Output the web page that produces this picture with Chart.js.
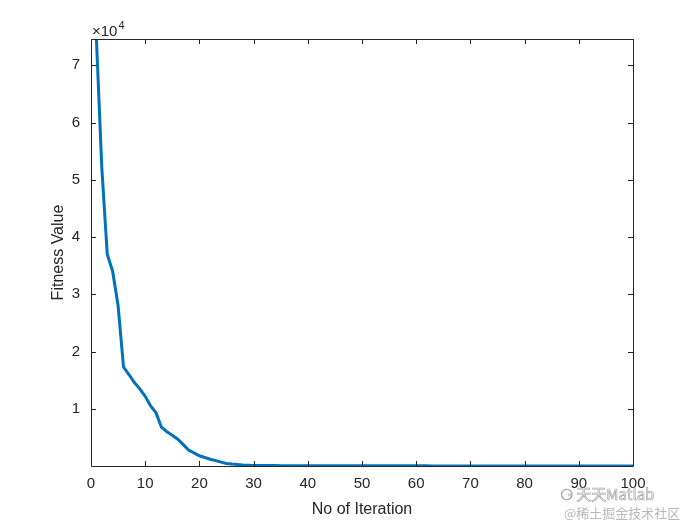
<!doctype html>
<html>
<head>
    <meta charset="UTF-8"/>
    <title>Fitness Value vs Iteration</title>
    <style type="text/css">
        body { margin: 0; padding: 0; background: #fff; }
        .chartBox { width: 700px; height: 525px; }
    </style>
</head>
<body>
    <div class="chartBox">
        <canvas id="myChart" width="700" height="525"></canvas>
    </div>

    <script src="https://cdn.jsdelivr.net/npm/chart.js"></script>

    <script>
        // Fitness value at each iteration
        const fitness = [
            74600, 52000, 37000, 34000, 28000, 17300, 16000, 14600, 13500, 12200,
            10500, 9300, 6800, 6000, 5400, 4700, 3800, 2800, 2300, 1800,
            1500, 1200, 950, 700, 450, 350, 280, 200, 150, 110,
            100, 95, 90, 85, 80, 78, 75, 72, 70, 68,
            66, 64, 62, 60, 58, 56, 55, 54, 53, 52,
            51, 50, 49, 48, 47, 46, 45, 44, 43, 42,
            41, 40, 39, 38, 37, 36, 35, 34, 33, 32,
            31, 30, 30, 29, 29, 28, 28, 27, 27, 26,
            26, 25, 25, 24, 24, 23, 23, 22, 22, 21,
            21, 20, 20, 20, 19, 19, 19, 18, 18, 18
        ];
        const iterations = fitness.map((v, i) => i + 1);
        const xTicks = [0, 10, 20, 30, 40, 50, 60, 70, 80, 90, 100];
        const yTicks = [10000, 20000, 30000, 40000, 50000, 60000, 70000];

        const FONT = "'Liberation Sans', Arial, sans-serif";
        const TEXT = '#262626';

        // MATLAB style frame with inward ticks, exponent label and watermark
        const matlabAxes = {
            id: 'matlabAxes',
            afterDraw(chart) {
                const ctx = chart.ctx;
                const a = chart.chartArea;
                const xs = chart.scales.x, ys = chart.scales.y;
                ctx.save();
                ctx.strokeStyle = TEXT;
                ctx.lineWidth = 1;
                ctx.beginPath();
                ctx.rect(Math.round(a.left) + 0.5, Math.round(a.top) + 0.5,
                    Math.round(a.right - a.left), Math.round(a.bottom - a.top));
                xTicks.forEach(t => {
                    const px = Math.round(xs.getPixelForValue(t)) + 0.5;
                    ctx.moveTo(px, a.bottom); ctx.lineTo(px, a.bottom - 5);
                    ctx.moveTo(px, a.top); ctx.lineTo(px, a.top + 5);
                });
                yTicks.forEach(t => {
                    const py = Math.round(ys.getPixelForValue(t)) + 0.5;
                    ctx.moveTo(a.left, py); ctx.lineTo(a.left + 5, py);
                    ctx.moveTo(a.right, py); ctx.lineTo(a.right - 5, py);
                });
                ctx.stroke();

                // exponent
                ctx.fillStyle = TEXT;
                ctx.textBaseline = 'alphabetic';
                ctx.textAlign = 'left';
                ctx.font = '15px ' + FONT;
                ctx.fillText('\u00d710', a.left + 1, a.top - 3);
                const w = ctx.measureText('\u00d710').width;
                ctx.font = '11px ' + FONT;
                ctx.fillText('4', a.left + 2 + w, a.top - 10);

                // watermark
                ctx.font = '15px "Noto Sans CJK SC", sans-serif';
                ctx.lineWidth = 0.7;
                ctx.strokeStyle = '#a8a8a8';
                ctx.fillStyle = '#ffffff';
                ctx.fillText('\u2686 \u5929\u5929Matlab', 560, 500);
                ctx.strokeText('\u2686 \u5929\u5929Matlab', 560, 500);
                ctx.font = '13px "Noto Sans CJK SC", sans-serif';
                ctx.fillStyle = '#b8b8b8';
                ctx.fillText('@\u7a00\u571f\u6398\u91d1\u6280\u672f\u793e\u533a', 564, 518);
                ctx.restore();
            }
        };

        const data = {
            datasets: [{
                label: 'Fitness',
                data: fitness.map((v, i) => ({ x: iterations[i], y: v })),
                borderColor: '#0072BD',
                backgroundColor: '#0072BD',
                borderWidth: 3,
                pointRadius: 0,
                tension: 0,
                fill: false
            }]
        };

        const config = {
            type: 'line',
            data: data,
            options: {
                responsive: false,
                animation: false,
                layout: { padding: { left: 0, top: 39, right: 67, bottom: 0 } },
                plugins: {
                    legend: { display: false },
                    tooltip: { enabled: false }
                },
                scales: {
                    x: {
                        type: 'linear',
                        min: 0,
                        max: 100,
                        afterFit: s => { s.height = 59; },
                        afterBuildTicks: s => { s.ticks = xTicks.map(v => ({ value: v })); },
                        grid: { display: false },
                        border: { display: false },
                        ticks: { color: TEXT, font: { family: FONT, size: 15 }, padding: 1, maxRotation: 0 },
                        title: {
                            display: true,
                            text: 'No of Iteration',
                            color: TEXT,
                            font: { family: FONT, size: 16 },
                            padding: { top: 0, bottom: 6 }
                        }
                    },
                    y: {
                        min: 18,
                        max: 74600,
                        afterFit: s => { s.width = 91; },
                        afterBuildTicks: s => { s.ticks = yTicks.map(v => ({ value: v })); },
                        grid: { display: false },
                        border: { display: false },
                        ticks: {
                            color: TEXT,
                            font: { family: FONT, size: 15 },
                            padding: 3,
                            callback: v => String(v / 10000)
                        },
                        title: {
                            display: true,
                            text: 'Fitness Value',
                            color: TEXT,
                            font: { family: FONT, size: 16 },
                            padding: { top: 49, bottom: 0 }
                        }
                    }
                }
            },
            plugins: [matlabAxes]
        };

        const myChart = new Chart(document.getElementById('myChart'), config);
    </script>
</body>
</html>
